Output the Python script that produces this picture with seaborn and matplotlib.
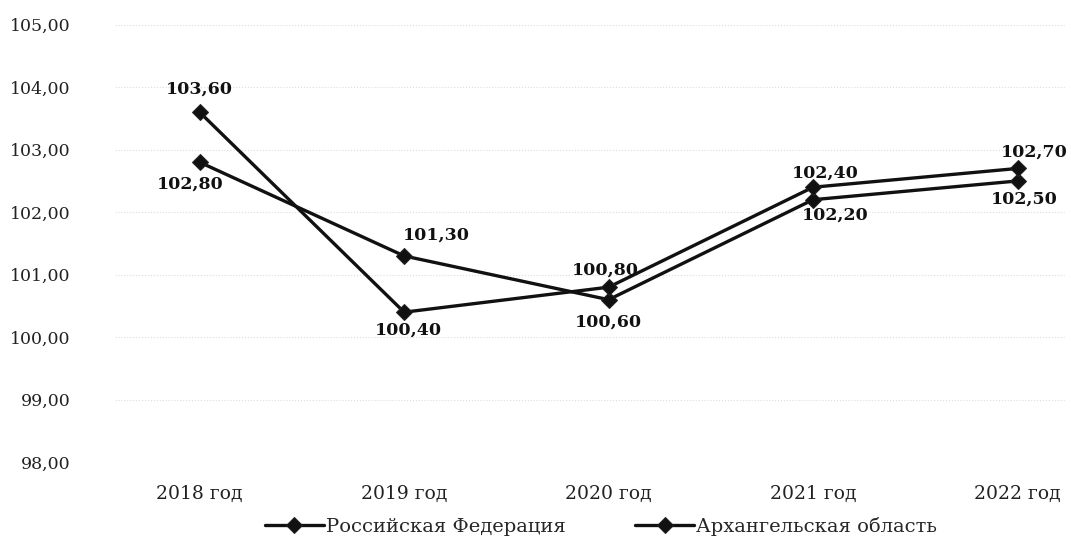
import pandas as pd
import matplotlib.pyplot as plt
import seaborn as sns

years = ["2018 год", "2019 год", "2020 год", "2021 год", "2022 год"]
rf_values = [102.80, 101.30, 100.60, 102.20, 102.50]
arkh_values = [103.60, 100.40, 100.80, 102.40, 102.70]
series_names = ["Российская Федерация", "Архангельская область"]

# label placement (points): dx, dy per point
rf_offsets = [(-7, -16), (23, 15), (0, -16), (16, -11), (5, -13)]
arkh_offsets = [(0, 17), (3, -13), (-2, 12), (9, 10), (12, 12)]

df = pd.DataFrame({
    "year": years * 2,
    "value": rf_values + arkh_values,
    "series": [series_names[0]] * 5 + [series_names[1]] * 5,
})

sns.set_style("white")
plt.rcParams["font.family"] = ["DejaVu Serif"]

fig = plt.figure(figsize=(10.71, 5.38), dpi=100)
ax = fig.add_axes([0.107, 0.141, 0.887, 0.813])

sns.lineplot(data=df, x="year", y="value", hue="series", style="series",
             palette=["#111111", "#111111"], markers=["D", "D"], dashes=False,
             linewidth=2.4, markersize=8, markeredgecolor="#222222",
             sort=False, ax=ax)

for vals, offs in [(rf_values, rf_offsets), (arkh_values, arkh_offsets)]:
    for i, (v, (dx, dy)) in enumerate(zip(vals, offs)):
        ax.annotate(f"{v:.2f}".replace(".", ","), (i, v), xytext=(dx, dy),
                    textcoords="offset points", ha="center", va="center",
                    fontsize=12.5, fontweight="bold", color="#111111")

ax.set_ylim(98, 105)
ax.set_xlim(-0.416, 4.23)
ax.set_yticks(range(98, 106))
ax.set_yticklabels([f"{t},00" for t in range(98, 106)])
ax.tick_params(axis="y", pad=28, labelsize=12.5, colors="#222222")
ax.tick_params(axis="x", pad=13, labelsize=13.5, colors="#222222")
ax.yaxis.grid(True, color="#dddddd", linestyle=":", linewidth=0.8)
ax.set_xlabel("")
ax.set_ylabel("")
sns.despine(ax=ax, left=True, bottom=True)

ax.legend(loc="upper center", bbox_to_anchor=(0.512, -0.085), ncol=2, frameon=False,
          fontsize=14, handlelength=3.0, handletextpad=0.1, columnspacing=3.6)

fig.savefig("out.png", dpi=100)
